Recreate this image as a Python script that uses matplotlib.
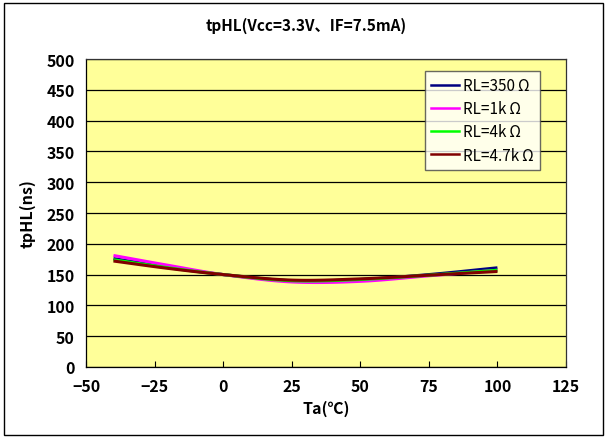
import numpy as np
import matplotlib
matplotlib.use("Agg")
import matplotlib.pyplot as plt
from matplotlib.patches import Rectangle

plt.rcParams['font.family'] = ['Noto Sans CJK JP', 'DejaVu Sans']

# Ta (°C) measurement points and tpHL (ns) for each load resistor
ta = [-40, -20, 0, 25, 50, 75, 100]
tphl_350 = [176, 162, 150, 140, 142, 150, 161]
tphl_1k = [181, 165, 150, 138, 139, 148, 157]
tphl_4k = [174, 161, 150, 140, 142, 149, 157]
tphl_4k7 = [172, 160, 150, 141, 143, 149, 155]

labels = ["RL=350\u2009Ω", "RL=1k\u2009Ω", "RL=4k\u2009Ω", "RL=4.7k\u2009Ω"]
colors = ["#000080", "#FF00FF", "#00FF00", "#800000"]


def smooth(x, y, n=20):
    # Catmull-Rom style smoothing between the measured points (like Excel smoothed lines)
    x = np.asarray(x, float)
    y = np.asarray(y, float)
    px = np.concatenate([[2 * x[0] - x[1]], x, [2 * x[-1] - x[-2]]])
    py = np.concatenate([[2 * y[0] - y[1]], y, [2 * y[-1] - y[-2]]])
    xs, ys = [], []
    for i in range(1, len(px) - 2):
        t = np.linspace(0, 1, n, endpoint=False)
        for arr, out in ((px, xs), (py, ys)):
            p0, p1, p2, p3 = arr[i - 1], arr[i], arr[i + 1], arr[i + 2]
            out.extend(0.5 * ((2 * p1) + (-p0 + p2) * t
                              + (2 * p0 - 5 * p1 + 4 * p2 - p3) * t ** 2
                              + (-p0 + 3 * p1 - 3 * p2 + p3) * t ** 3))
    xs.append(x[-1])
    ys.append(y[-1])
    return np.array(xs), np.array(ys)


fig = plt.figure(figsize=(6.06, 4.39), dpi=100)
fig.patch.set_facecolor("white")
fig.add_artist(Rectangle((0.006, 0.007), 0.989, 0.985, transform=fig.transFigure,
                         fill=False, edgecolor="black", linewidth=1.0))

ax = fig.add_axes([0.142, 0.162, 0.792, 0.701])
ax.set_facecolor("#FFFF99")

handles = []
for ys, lab, c in zip([tphl_350, tphl_1k, tphl_4k, tphl_4k7], labels, colors):
    sx, sy = smooth(ta, ys)
    ax.plot(sx, sy, color=c, linewidth=2.2, solid_capstyle="butt")
    h, = ax.plot([], [], color=c, linewidth=1.8, label=lab)
    handles.append(h)

ax.set_xlim(-50, 125)
ax.set_ylim(0, 500)
ax.set_xticks(np.arange(-50, 126, 25))
ax.set_yticks(np.arange(0, 501, 50))
ax.set_xticklabels(["\u221250", "\u221225", "0", "25", "50", "75", "100", "125"])
ax.yaxis.grid(True, color="black", linewidth=0.9)
ax.set_axisbelow(True)
ax.tick_params(axis="x", direction="in", length=4, width=0.8, labelsize=11.5, pad=8)
ax.tick_params(axis="y", length=0, labelsize=11.5, pad=8)
for lbl in ax.get_xticklabels() + ax.get_yticklabels():
    lbl.set_fontweight("bold")
for s in ax.spines.values():
    s.set_linewidth(0.9)
    s.set_color("#333333")
ax.spines["left"].set_color("black")
ax.spines["bottom"].set_color("black")

ax.set_xlabel("Ta(℃)", fontsize=11.5, fontweight="bold", labelpad=4)
ax.set_ylabel("tpHL(ns)", fontsize=11.5, fontweight="bold", labelpad=8)
fig.text(0.505, 0.94, "tpHL(Vcc=3.3V、IF=7.5mA)", ha="center", va="center",
         fontsize=11, fontweight="bold")

leg = ax.legend(handles=handles, loc="upper right", bbox_to_anchor=(0.946, 0.961),
                borderaxespad=0, fontsize=11, frameon=True, fancybox=False,
                shadow=False, handlelength=1.8, borderpad=0.4, labelspacing=0.4,
                handletextpad=0.3)
leg.get_frame().set_edgecolor("#444444")
leg.get_frame().set_linewidth(1.0)

fig.savefig("out.png", dpi=100)
